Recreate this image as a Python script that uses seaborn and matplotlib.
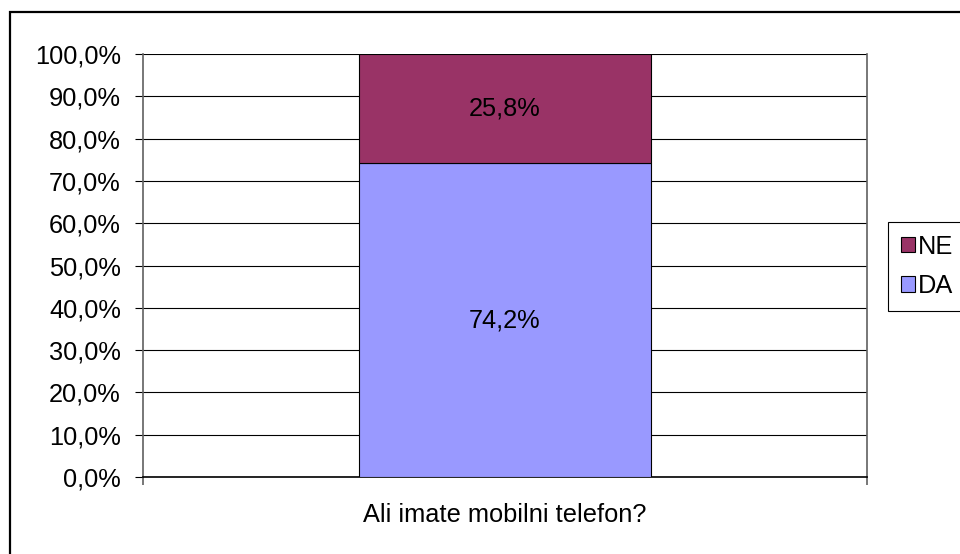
import matplotlib
matplotlib.use("Agg")
import matplotlib.pyplot as plt
import seaborn as sns
import pandas as pd
import numpy as np
from matplotlib.patches import Patch, Rectangle
from matplotlib.ticker import FixedLocator, FuncFormatter

# ---- data ----
categories = ["Ali imate mobilni telefon?"]
da_values = [74.2]
ne_values = [25.8]
series_names = ["NE", "DA"]
colors = {"DA": "#9999FF", "NE": "#993366"}
y_ticks = list(range(0, 101, 10))

sns.set_theme(style="white")
plt.rcParams["font.family"] = ["Liberation Sans", "DejaVu Sans"]
plt.rcParams.update({"text.color": "black", "xtick.color": "black",
                     "ytick.color": "black", "axes.labelcolor": "black",
                     "legend.framealpha": 1.0})

fig = plt.figure(figsize=(9.6, 5.54), dpi=100)
ax = fig.add_axes([143/960, 1-477/554, (867-143)/960, (477-54)/554])

df = pd.DataFrame({"cat": categories, "DA": da_values, "NE": ne_values})
bw = 0.403
sns.barplot(data=df, x="cat", y="DA", color=colors["DA"], width=bw,
            edgecolor="black", linewidth=0.8, saturation=1, ax=ax, zorder=3)
sns.barplot(data=df, x="cat", y="NE", color=colors["NE"], width=bw,
            bottom=df["DA"].values, edgecolor="black", linewidth=0.8,
            saturation=1, ax=ax, zorder=3)

fs = 18.3
for cont, vals in zip(ax.containers, [da_values, ne_values]):
    ax.bar_label(cont, labels=[f"{v:.1f}%".replace(".", ",") for v in vals],
                 label_type="center", fontsize=fs, color="black")

ax.set_xlim(-0.5, 0.5)
ax.set_ylim(0, 100)
ax.yaxis.set_major_locator(FixedLocator(y_ticks))
ax.yaxis.set_major_formatter(FuncFormatter(lambda v, p: f"{v:.1f}%".replace(".", ",")))
ax.grid(axis="y", color="black", linewidth=0.8, zorder=0)
ax.set_axisbelow(True)
ax.set_xlabel("")
ax.set_ylabel("")

ax.tick_params(axis="y", which="major", direction="out", length=6, width=0.8,
               color="black", labelcolor="black", pad=10, labelsize=fs, left=True)
ax.tick_params(axis="x", which="major", length=0, pad=19, labelsize=fs,
               labelcolor="black")
ax.set_xticks([-0.5, 0.5], minor=True)
ax.tick_params(axis="x", which="minor", direction="out", length=6, width=1.2,
               color="#606060", bottom=True)

for s in ["left", "right"]:
    ax.spines[s].set_color("#606060")
    ax.spines[s].set_linewidth(1.2)
ax.spines["top"].set_visible(False)
ax.spines["bottom"].set_color("black")
ax.spines["bottom"].set_linewidth(1.2)

handles = [Patch(facecolor=colors[n], edgecolor="black", linewidth=0.8) for n in series_names]
leg = fig.legend(handles, series_names, loc="upper left",
                 bbox_to_anchor=(888/960, 1-222/554), bbox_transform=fig.transFigure,
                 fontsize=fs, frameon=True, fancybox=False, shadow=False,
                 handlelength=0.55, handleheight=0.55, handletextpad=0.12,
                 labelspacing=0.6, borderpad=0.5, borderaxespad=0)
leg.get_frame().set_edgecolor("black")
leg.get_frame().set_linewidth(0.8)
for t in leg.get_texts():
    t.set_color("black")

fig.add_artist(Rectangle((10/960, -0.2), 1.2, 1.2 - 12/554,
                         transform=fig.transFigure, fill=False,
                         edgecolor="black", linewidth=1.6))

fig.savefig("out.png", dpi=100)
